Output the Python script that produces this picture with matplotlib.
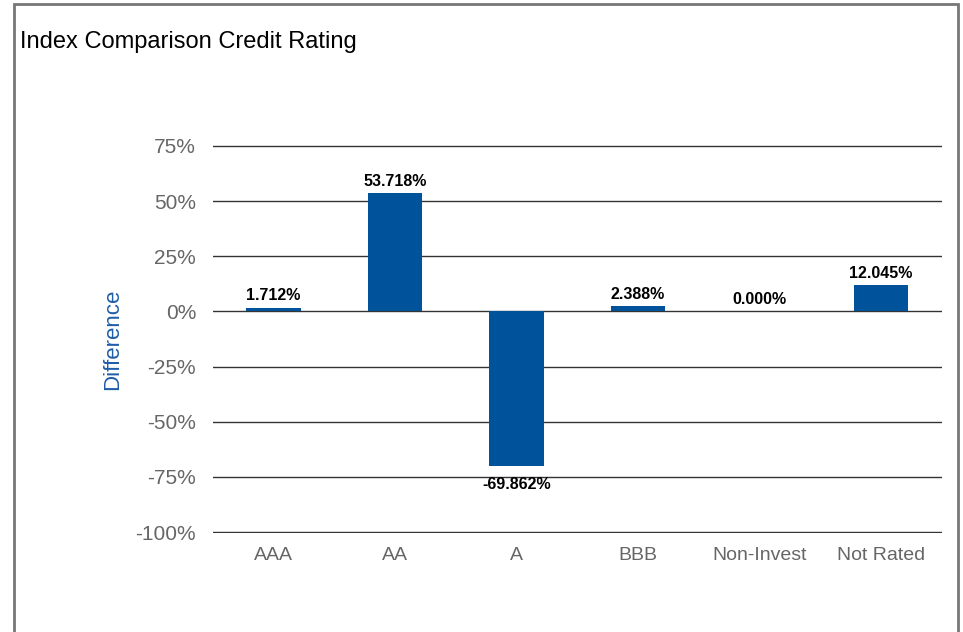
import matplotlib
matplotlib.use("Agg")
import matplotlib.pyplot as plt
from matplotlib.patches import Rectangle
from matplotlib.ticker import FuncFormatter

categories = ["AAA", "AA", "A", "BBB", "Non-Invest", "Not Rated"]
difference = [1.712, 53.718, -69.862, 2.388, 0.000, 12.045]
y_ticks = [75, 50, 25, 0, -25, -50, -75, -100]

bar_color = "#00539b"
plt.rcParams["font.family"] = ["Liberation Sans", "DejaVu Sans"]

fig = plt.figure(figsize=(9.63, 6.32), dpi=100)
ax = fig.add_axes([0.221, 0.1566, 0.757, 0.614])

x = range(len(categories))
ax.bar(x, difference, width=0.45, color=bar_color, zorder=3)

for i, v in enumerate(difference):
    if v < 0:
        ax.annotate(f"{v:.3f}%", (i, v), xytext=(0, -8), textcoords="offset points",
                    ha="center", va="top", fontsize=11.5, fontweight="bold", color="black")
    else:
        ax.annotate(f"{v:.3f}%", (i, v), xytext=(0, 3), textcoords="offset points",
                    ha="center", va="bottom", fontsize=11.5, fontweight="bold", color="black")

ax.set_xlim(-0.5, len(categories) - 0.5)
ax.set_ylim(-100.4, 75.4)
ax.set_yticks(y_ticks)
ax.yaxis.set_major_formatter(FuncFormatter(lambda v, p: f"{v:.0f}%"))
ax.set_xticks(list(x))
ax.set_xticklabels(categories)
ax.tick_params(axis="both", length=0, labelcolor="#666666")
ax.tick_params(axis="y", pad=12, labelsize=15)
ax.tick_params(axis="x", pad=10, labelsize=14)
ax.grid(axis="y", color="#333333", linewidth=1, zorder=0)
ax.set_axisbelow(True)
for s in ax.spines.values():
    s.set_visible(False)

ax.set_ylabel("Difference", fontsize=16, color="#1f5ea8", labelpad=9)

fig.text(0.021, 0.933, "Index Comparison Credit Rating", fontsize=17, color="black",
         ha="left", va="center")

fig.patches.append(Rectangle((0.0145, -0.05), 0.98, 1.044, transform=fig.transFigure,
                             fill=False, edgecolor="#777777", linewidth=2))

fig.savefig("out.png", dpi=100)
